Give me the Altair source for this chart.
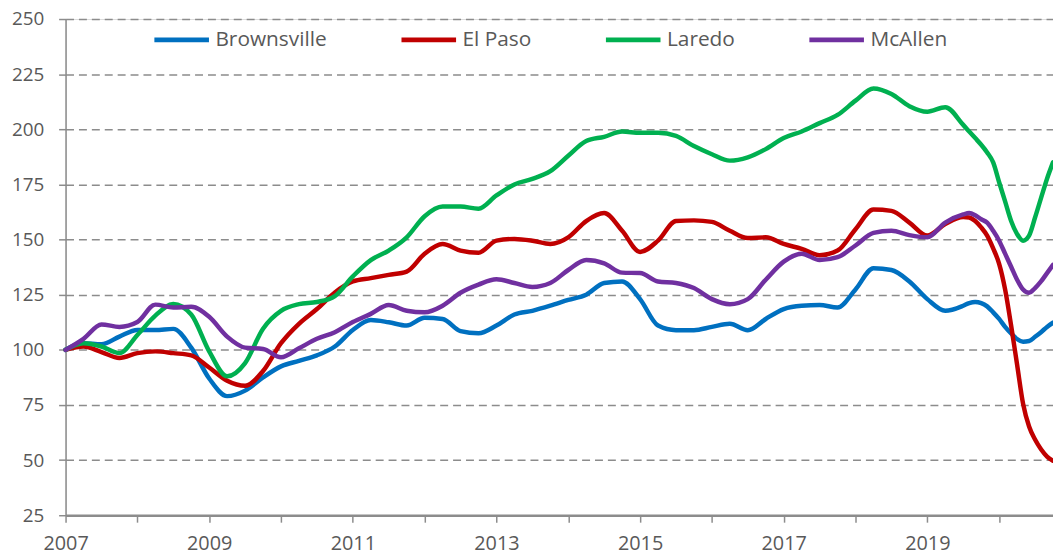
import altair as alt
import pandas as pd

periods = [
    2007.0, 2007.25, 2007.5, 2007.75, 2008.0, 2008.25, 2008.5, 2008.75,
    2009.0, 2009.25, 2009.5, 2009.75, 2010.0, 2010.25, 2010.5, 2010.75,
    2011.0, 2011.25, 2011.5, 2011.75, 2012.0, 2012.25, 2012.5, 2012.75,
    2013.0, 2013.25, 2013.5, 2013.75, 2014.0, 2014.25, 2014.5, 2014.75,
    2015.0, 2015.25, 2015.5, 2015.75, 2016.0, 2016.25, 2016.5, 2016.75,
    2017.0, 2017.25, 2017.5, 2017.75, 2018.0, 2018.25, 2018.5, 2018.75,
    2019.0, 2019.25,
    2019.5, 2019.583, 2019.667, 2019.75, 2019.833, 2019.917,
    2020.0, 2020.083, 2020.167, 2020.25, 2020.333, 2020.417,
    2020.5, 2020.583, 2020.667, 2020.75,
]

brownsville = [
    100, 103, 102.5, 106, 109, 109, 109.5, 101,
    87, 79, 81.5, 87.5, 92.5, 95, 97.5, 101.5,
    109, 113.5, 112.5, 111, 114.5, 114, 108.5, 107.5,
    111, 116, 117.7, 120, 122.6, 125, 130.3, 131,
    123, 111, 108.9, 108.9, 110.4, 111.8, 108.9, 114,
    118.5, 120, 120.3, 119.2, 127.4, 137, 136.2, 131,
    123, 117.7,
    120, 121.2, 121.7, 121.2, 119.7, 117,
    114, 110.4, 107.4, 104.9, 103.7, 104,
    105.9, 108, 110.4, 112.3,
]

el_paso = [
    100, 101.5, 99, 96.3, 98.5, 99.3, 98.5, 97.5,
    92, 86, 83.7, 90.4, 103, 111.8, 118.5, 126,
    131, 132.5, 134, 135.5, 143.6, 148, 145, 144,
    149.5, 150.3, 149.5, 148, 151, 158.4, 162, 154,
    144.4, 149.5, 158.4, 158.7, 158, 154, 150.7, 151,
    148, 145.8, 142.9, 145, 154.7, 163.6, 163, 157.7,
    151.8, 157,
    160.2, 160, 158.4, 155.5, 151.8, 146,
    139, 127.4, 111, 93.3, 75.6, 65.2,
    59.3, 54.9, 51.6, 49.7,
]

laredo = [
    100, 103, 101.5, 98.5, 106.7, 115.5, 120.8, 116,
    99.3, 88, 94, 109.6, 117.7, 120.7, 121.7, 124.4,
    133.3, 140.7, 145, 151, 160.6, 165, 165, 164,
    170, 175, 177.5, 181, 188, 194.7, 196.6, 199,
    198.4, 198.4, 197, 192.4, 188.7, 185.8, 187.3, 191,
    196, 199, 202.8, 206.5, 213, 218.5, 216, 210.5,
    208, 210,
    202, 199, 196, 193, 189.5, 185,
    176, 167.3, 158.4, 152.5, 149.5, 151.8,
    160, 168.8, 177.6, 185,
]

mcallen = [
    100, 105, 111.5, 110.4, 112.6, 120.5, 119.2, 119.5,
    115, 106, 101, 100.4, 96.6, 100.7, 105, 108,
    112.6, 116.3, 120.3, 117.7, 117, 120, 125.9, 129.6,
    132, 130.3, 128.5, 130.3, 136.2, 140.7, 139.2, 135,
    134.8, 131, 130.3, 128, 123, 120.7, 123, 131.8,
    140, 143.6, 140.7, 142, 147.3, 153, 154, 152,
    151, 157.7,
    161.4, 162, 161, 159.2, 157.7, 154,
    149.5, 143.6, 137.7, 131.8, 127.4, 125.9,
    128, 131, 134.8, 138.5,
]

series_names = ["Brownsville", "El Paso", "Laredo", "McAllen"]
series_colors = ["#0070C0", "#C00000", "#00B050", "#7030A0"]
y_ticks = [25, 50, 75, 100, 125, 150, 175, 200, 225, 250]
x_ticks = [2007, 2008, 2009, 2010, 2011, 2012, 2013, 2014, 2015, 2016, 2017, 2018, 2019, 2020]

rows = []
for name, vals in zip(series_names, [brownsville, el_paso, laredo, mcallen]):
    for p, v in zip(periods, vals):
        rows.append({"period": p, "value": v, "city": name, "order": series_names.index(name)})
df = pd.DataFrame(rows)

FONT = "Open Sans"
TXT = "#595959"

chart = alt.Chart(df).mark_line(
    interpolate="monotone", strokeWidth=4.5, strokeCap="round", strokeJoin="round"
).encode(
    x=alt.X(
        "period:Q",
        scale=alt.Scale(domain=[2007, 2020.75], nice=False, zero=False),
        axis=alt.Axis(
            values=x_ticks,
            format="d",
            labelExpr="datum.value % 2 == 1 ? datum.label : ''",
            title=None,
            grid=False,
            domainColor="#8C8C8C",
            domainWidth=2.5,
            tickColor="#8C8C8C",
            tickWidth=1.5,
            tickSize=7,
            labelBaseline="alphabetic",
            labelPadding=28,
            labelFont=FONT,
            labelFontSize=20,
            labelColor=TXT,
            labelOverlap=False,
            labelFlush=False,
        ),
    ),
    y=alt.Y(
        "value:Q",
        scale=alt.Scale(domain=[25, 250], nice=False, zero=False),
        axis=alt.Axis(
            values=y_ticks,
            title=None,
            grid=True,
            gridDash=[8, 5],
            gridColor="#8C8C8C",
            gridWidth=1.5,
            domainColor="#8C8C8C",
            domainWidth=1.5,
            tickColor="#8C8C8C",
            tickWidth=1.5,
            tickSize=7,
            labelPadding=15,
            labelFont=FONT,
            labelFontSize=19,
            labelColor=TXT,
            labelOverlap=False,
            labelFlush=False,
        ),
    ),
    color=alt.Color(
        "city:N",
        scale=alt.Scale(domain=series_names, range=series_colors),
        legend=alt.Legend(
            title=None,
            orient="none",
            legendX=87,
            legendY=-9,
            direction="horizontal",
            symbolType="stroke",
            symbolSize=3025,
            symbolStrokeWidth=5,
            labelFont=FONT,
            labelFontSize=21,
            labelColor=TXT,
            labelOffset=4,
            columnPadding=64,
            gridAlign="each",
            padding=0,
        ),
    ),
    order=alt.Order("order:Q"),
).properties(
    width=995,
    height=500,
    padding={"left": 58, "top": 9, "right": 0, "bottom": 43},
    autosize=alt.AutoSizeParams(type="none"),
).configure_view(stroke=None).configure(background="white")

chart.save("out.html", embed_options={"renderer": "svg", "actions": False})
